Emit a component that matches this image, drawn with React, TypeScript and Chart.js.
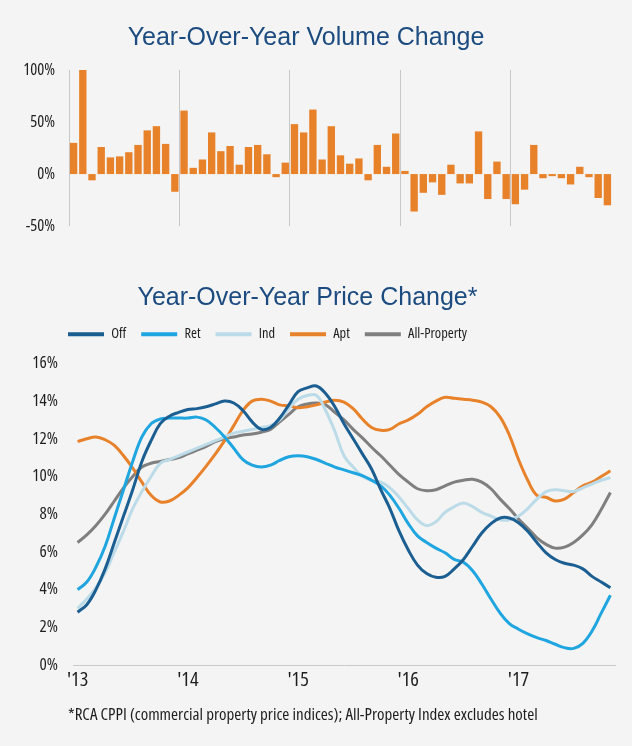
import React, { useEffect, useRef, useState } from 'react';
import { Chart, registerables } from 'chart.js';

Chart.register(...registerables);

// ---- categories ----
const yearTicks = ["'13", "'14", "'15", "'16", "'17"];
const monthNames = ['Jan', 'Feb', 'Mar', 'Apr', 'May', 'Jun', 'Jul', 'Aug', 'Sep', 'Oct', 'Nov', 'Dec'];
const monthCount = 59; // Jan 2013 .. Nov 2017
const months = yearTicks.flatMap((y) => monthNames.map((m) => `${m} ${y}`)).slice(0, monthCount);

// ---- year-over-year volume change (%) ----
const volumeChange = [
  30, 100, -6, 26, 16, 17, 21, 28, 42, 46, 29, -17,
  61, 6, 14, 40, 22, 27, 9, 26, 28, 19, -3, 11,
  48, 40, 62, 14, 46, 18, 10, 15, -6, 28, 7, 39,
  3, -36, -18, -8, -20, 9, -9, -9, 41, -24, 12, -24,
  -29, -15, 28, -4, -2, -4, -10, 7, -3, -23, -30,
];

// ---- year-over-year price change (%) ----
const off = [
  2.8, 3.2, 4.0, 5.1, 6.5, 7.9, 9.3, 10.8, 11.9, 12.8, 13.2, 13.4,
  13.55, 13.6, 13.7, 13.85, 14.0, 13.9, 13.5, 12.9, 12.5, 12.6, 13.1, 13.8,
  14.5, 14.7, 14.8, 14.4, 13.7, 12.8, 12.0, 11.2, 10.4, 9.3, 8.3, 7.1,
  6.1, 5.3, 4.85, 4.65, 4.7, 5.1, 5.6, 6.3, 7.0, 7.5, 7.8, 7.8,
  7.55, 7.1, 6.5, 5.95, 5.6, 5.4, 5.3, 5.1, 4.7, 4.4, 4.1,
];
const ret = [
  4.0, 4.4, 5.2, 6.3, 7.8, 9.3, 10.8, 12.1, 12.8, 13.05, 13.1, 13.1,
  13.1, 13.15, 13.0, 12.6, 12.1, 11.5, 10.9, 10.6, 10.5, 10.6, 10.85, 11.05,
  11.1, 11.05, 10.9, 10.7, 10.5, 10.35, 10.2, 10.05, 9.8, 9.5, 9.0, 8.3,
  7.5, 6.85, 6.5, 6.2, 5.95, 5.6, 5.45, 5.0, 4.3, 3.5, 2.75, 2.2,
  1.9, 1.65, 1.45, 1.3, 1.1, 0.92, 0.88, 1.15, 1.8, 2.75, 3.7,
];
const ind = [
  3.0, 3.5, 4.1, 4.9, 6.0, 7.1, 8.3, 9.2, 10.0, 10.7, 10.9, 11.1,
  11.3, 11.5, 11.7, 11.9, 12.1, 12.3, 12.4, 12.5, 12.6, 12.7, 13.0, 13.6,
  14.1, 14.3, 14.3, 13.5, 12.4, 11.1, 10.5, 10.0, 9.8, 9.7, 9.4, 8.9,
  8.3, 7.7, 7.4, 7.6, 8.1, 8.4, 8.6, 8.4, 8.1, 7.9, 7.7, 7.7,
  7.9, 8.3, 8.8, 9.2, 9.3, 9.25, 9.2, 9.4, 9.6, 9.8, 9.95,
];
const apt = [
  11.85, 12.0, 12.1, 11.95, 11.65, 11.1, 10.45, 9.7, 9.0, 8.65, 8.7, 9.0,
  9.4, 9.95, 10.55, 11.2, 11.9, 12.7, 13.5, 14.0, 14.1, 14.0, 13.8, 13.75,
  13.65, 13.7, 13.8, 13.95, 14.05, 13.95, 13.6, 13.05, 12.6, 12.45, 12.5, 12.8,
  13.0, 13.3, 13.7, 14.0, 14.2, 14.15, 14.1, 14.05, 13.95, 13.7, 13.15, 12.2,
  10.9, 9.8, 9.0, 8.9, 8.7, 8.8, 9.15, 9.5, 9.7, 10.0, 10.3,
];
const allProperty = [
  6.5, 6.9, 7.4, 8.0, 8.7, 9.4, 10.0, 10.5, 10.7, 10.8, 10.9, 11.0,
  11.2, 11.4, 11.6, 11.85, 12.0, 12.1, 12.2, 12.25, 12.35, 12.5, 12.9, 13.3,
  13.7, 13.85, 13.9, 13.8, 13.4, 13.0, 12.5, 12.05, 11.55, 11.1, 10.6, 10.1,
  9.7, 9.35, 9.25, 9.3, 9.5, 9.7, 9.8, 9.85, 9.7, 9.35, 8.8, 8.3,
  7.75, 7.25, 6.75, 6.4, 6.2, 6.25, 6.5, 6.9, 7.45, 8.25, 9.15,
];

const seriesNames = ['Off', 'Ret', 'Ind', 'Apt', 'All-Property'];
const seriesValues = [off, ret, ind, apt, allProperty];
const seriesColors = ['#1b5e91', '#1fa5df', '#bcdbe8', '#e8822a', '#7f7f7f'];

const FOOTNOTE = '*RCA CPPI (commercial property price indices); All-Property Index excludes hotel';

const BG = '#f4f4f4';
const NAVY = '#1c4b80';
const TEXT = '#1e1e1e';
const GRID = '#c8c8c8';
const ORANGE = '#e8822a';
const SANS = "'Liberation Sans', Arial, sans-serif";

type NarrowFont = { family: string; stretch: string; scale: number; mid: number };

// Find an installed condensed face close to Arial Narrow; otherwise fall back to a smaller regular face.
function pickNarrowFont(): NarrowFont {
  const fallback: NarrowFont = { family: "'Liberation Sans', Arial, sans-serif", stretch: 'normal', scale: 0.88, mid: 0.3465 };
  try {
    const ctx = document.createElement('canvas').getContext('2d');
    if (!ctx) return fallback;
    const sample = 'All-Property Index excludes hotel 0123456789%';
    const measure = (font: string) => {
      ctx.font = "100px 'Liberation Sans'";
      ctx.font = font;
      return ctx.measureText(sample).width;
    };
    const ref = measure("100px 'Liberation Sans'");
    const serif = measure('100px serif');
    const candidates: [string, number][] = [
      ["'Liberation Sans Narrow'", 0.3465],
      ["'Arial Narrow'", 0.3465],
      ["'Noto Sans'", 0.388],
      ["'Open Sans'", 0.388],
      ["'DejaVu Sans'", 0.37],
      ['Roboto', 0.37],
    ];
    const stretches = ['normal', 'semi-condensed', 'condensed', 'extra-condensed'];
    let best: NarrowFont | null = null;
    let bestErr = Infinity;
    for (const [fam, mid] of candidates) {
      for (const st of stretches) {
        const w = measure(`${st === 'normal' ? '' : st + ' '}100px ${fam}`);
        if (Math.abs(w - serif) < 0.5 || Math.abs(w - ref) < 0.5) continue;
        const ratio = w / ref;
        if (ratio < 0.7 || ratio > 0.92) continue;
        const err = Math.abs(ratio - 0.82);
        if (err < bestErr) {
          bestErr = err;
          const scale = Math.min(1.08, Math.max(0.94, 0.82 / ratio));
          best = { family: `${fam}, 'Liberation Sans', sans-serif`, stretch: st, scale, mid };
        }
      }
    }
    return best || fallback;
  } catch (e) {
    return fallback;
  }
}

const legendShift = {
  id: 'legendShift',
  afterLayout(chart: any) {
    if (chart.legend) chart.legend.left = 53;
  },
};

const yearGrid = (c: any) => (typeof c.index === 'number' && c.index % 12 === 0 ? GRID : 'rgba(0,0,0,0)');

export default function App() {
  const topRef = useRef<HTMLCanvasElement>(null);
  const botRef = useRef<HTMLCanvasElement>(null);
  const [nf] = useState<NarrowFont>(() => pickNarrowFont());

  const nfont = (size: number) => ({
    family: nf.family,
    size: Math.round(size * nf.scale * 10) / 10,
    weight: nf.stretch === 'normal' ? 'normal' : nf.stretch,
  });

  useEffect(() => {
    document.body.style.margin = '0';
    document.body.style.background = BG;

    const top = new Chart(topRef.current!, {
      type: 'bar',
      data: {
        labels: months,
        datasets: [
          { data: volumeChange, backgroundColor: ORANGE, barPercentage: 0.8, categoryPercentage: 1 },
        ],
      },
      options: {
        animation: false,
        responsive: false,
        layout: { padding: { left: 0, right: 20, top: 0, bottom: 15 } },
        plugins: {
          legend: { display: false },
          tooltip: { enabled: false },
          title: {
            display: true,
            text: 'Year-Over-Year Volume Change',
            color: NAVY,
            font: { family: SANS, size: 25, weight: 'normal', lineHeight: 1 },
            padding: { top: 26, bottom: 19 },
          },
        },
        scales: {
          x: {
            offset: true,
            grid: { offset: true, drawTicks: false, color: yearGrid, lineWidth: 1 },
            ticks: { display: false },
            border: { display: false },
            afterFit: (s: any) => { s.height = 0; },
          },
          y: {
            min: -50,
            max: 100,
            ticks: {
              stepSize: 50,
              padding: 14,
              color: TEXT,
              font: nfont(15.5),
              callback: (v: any) => `${v}%`,
            },
            grid: { display: false, drawTicks: false },
            border: { display: false },
            afterFit: (s: any) => { s.width = 69; },
          },
        },
      } as any,
    });

    const bottom = new Chart(botRef.current!, {
      type: 'line',
      data: {
        labels: months,
        datasets: seriesNames.map((name, i) => ({
          label: name,
          data: seriesValues[i],
          borderColor: seriesColors[i],
          backgroundColor: seriesColors[i],
          borderWidth: 3,
          pointRadius: 0,
          tension: 0.4,
          fill: false,
        })),
      },
      options: {
        animation: false,
        responsive: false,
        layout: { padding: { left: 0, right: 17, top: 0, bottom: 51 } },
        plugins: {
          tooltip: { enabled: false },
          title: {
            display: true,
            text: 'Year-Over-Year Price Change*',
            color: NAVY,
            font: { family: SANS, size: 25, weight: 'normal', lineHeight: 1 },
            padding: { top: 36, bottom: 1 },
          },
          legend: {
            display: true,
            position: 'top',
            align: 'start',
            labels: {
              boxWidth: 36,
              boxHeight: 4,
              padding: 15,
              color: TEXT,
              font: nfont(13.5),
              generateLabels: (chart: any) =>
                (Chart.defaults.plugins.legend.labels as any)
                  .generateLabels(chart)
                  .map((l: any) => ({ ...l, lineWidth: 0 })),
            },
          },
          subtitle: {
            display: true,
            text: '',
            position: 'top',
            weight: 500,
            font: { size: 1, lineHeight: 1 },
            padding: { top: 0, bottom: 11 },
          },
        },
        scales: {
          x: {
            offset: true,
            grid: { offset: true, drawTicks: false, color: yearGrid, lineWidth: 1 },
            border: { display: true, color: GRID, width: 1 },
            ticks: {
              autoSkip: false,
              maxRotation: 0,
              padding: 3,
              color: TEXT,
              font: nfont(19),
              callback: (_v: any, i: number) => (i % 12 === 0 ? yearTicks[i / 12] : null),
            },
            afterFit: (s: any) => { s.height = 30; },
          },
          y: {
            min: 0,
            max: 16,
            ticks: {
              stepSize: 2,
              padding: 15,
              color: TEXT,
              font: nfont(16),
              callback: (v: any) => `${v}%`,
            },
            grid: { display: false, drawTicks: false },
            border: { display: false },
            afterFit: (s: any) => { s.width = 73; },
          },
        },
      } as any,
      plugins: [legendShift],
    });

    return () => {
      top.destroy();
      bottom.destroy();
    };
  }, [nf]);

  const footSize = Math.round(15.9 * nf.scale * 10) / 10;
  const footLine = 20;
  // place the cap-height centre of the footnote at y = 714.5
  const footTop = 714.5 + 0.358 * footSize - footLine / 2 - nf.mid * footSize;

  return (
    <div style={{ position: 'relative', width: 632, height: 746, background: BG, overflow: 'hidden' }}>
      <canvas ref={topRef} width={632} height={250} style={{ position: 'absolute', left: 0, top: 0 }} />
      <canvas ref={botRef} width={632} height={496} style={{ position: 'absolute', left: 0, top: 250 }} />
      <div
        style={{
          position: 'absolute',
          left: 68,
          top: footTop,
          fontFamily: nf.family,
          fontStretch: nf.stretch as any,
          fontSize: footSize,
          lineHeight: `${footLine}px`,
          color: TEXT,
          whiteSpace: 'nowrap',
        }}
      >
        {FOOTNOTE}
      </div>
    </div>
  );
}
